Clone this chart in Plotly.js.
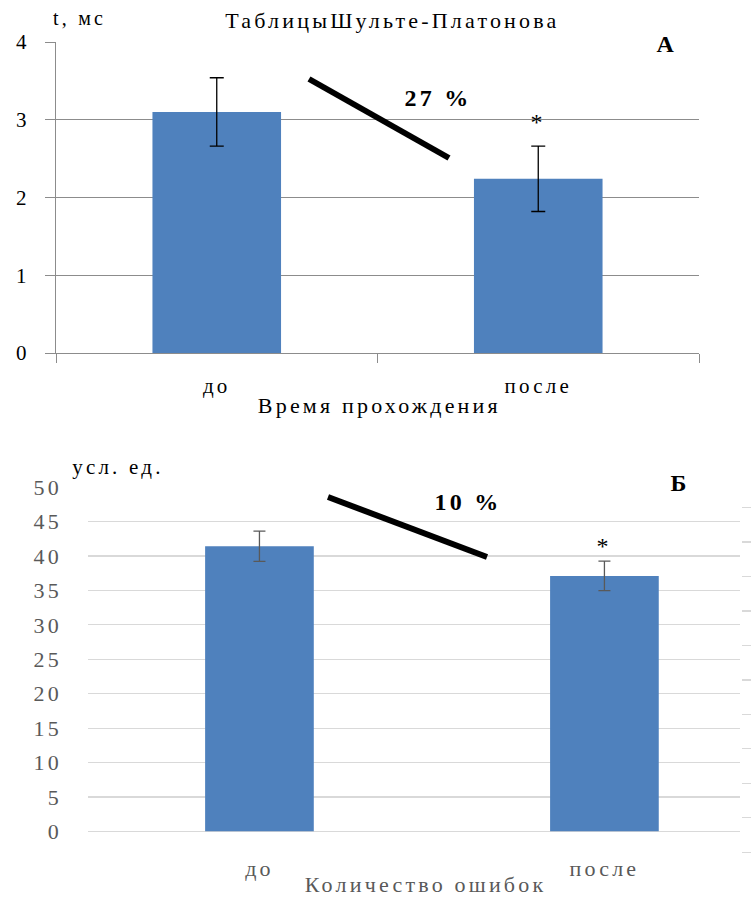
<!DOCTYPE html>
<html>
<head>
<meta charset="utf-8">
<script src="https://cdn.plot.ly/plotly-3.0.1.min.js"></script>
<style>
html,body{margin:0;padding:0;background:#fff;}
#chart{width:751px;height:898px;}
#chart text{letter-spacing:3.2px;}
</style>
</head>
<body>
<div id="chart"></div>
<script>
// ---- data ----
const categories = ['до', 'после'];
const timeValues = [3.10, 2.24];      // Время прохождения, t, мс
const timeErrors = [0.44, 0.42];
const mistakeValues = [41.4, 37.1];   // Количество ошибок, усл. ед.
const mistakeErrors = [2.2, 2.15];
const timeTickVals = [0, 1, 2, 3, 4];
const mistakeTickVals = [0, 5, 10, 15, 20, 25, 30, 35, 40, 45, 50];

// ---- layout helpers (pixel -> paper) ----
const W = 751, H = 898;
const px = x => x / W;
const py = y => 1 - y / H;
const serif = 'Liberation Serif, serif';
const barColor = '#4f81bd';

const traces = [
  {
    type: 'bar', x: categories, y: timeValues, xaxis: 'x', yaxis: 'y',
    width: 0.4, marker: {color: barColor},
    error_y: {type: 'data', array: timeErrors, visible: true, color: '#000', thickness: 1.3, width: 7},
    showlegend: false, hoverinfo: 'x+y'
  },
  {
    type: 'bar', x: categories, y: mistakeValues, xaxis: 'x2', yaxis: 'y2',
    width: 0.315, marker: {color: barColor},
    error_y: {type: 'data', array: mistakeErrors, visible: true, color: '#595959', thickness: 1.3, width: 6},
    showlegend: false, hoverinfo: 'x+y'
  },
  { type: 'scatter', x: [], y: [], xaxis: 'x3', yaxis: 'y3', showlegend: false }
];

const layout = {
  width: W, height: H,
  margin: {l: 0, r: 0, t: 0, b: 0},
  paper_bgcolor: '#fff', plot_bgcolor: 'rgba(0,0,0,0)',
  font: {family: serif, color: '#000', size: 21},
  xaxis: {
    domain: [px(56), px(699)], anchor: 'y', range: [-0.5, 1.5],
    type: 'category', showline: true, linecolor: '#8c8c8c', linewidth: 1,
    ticks: 'outside', tickson: 'boundaries', ticklen: 9, tickcolor: '#8c8c8c',
    tickfont: {family: serif, size: 21, color: '#000'}, ticklabelstandoff: 14,
    showgrid: false, fixedrange: true
  },
  yaxis: {
    domain: [py(353), py(42)], anchor: 'x', range: [0, 4],
    tickvals: timeTickVals, showline: true, linecolor: '#8c8c8c', linewidth: 1,
    ticks: 'outside', ticklen: 10, tickcolor: '#8c8c8c',
    showgrid: true, gridcolor: '#8c8c8c', gridwidth: 1, zeroline: false,
    tickfont: {family: serif, size: 21, color: '#000'}, ticklabelstandoff: 11,
    fixedrange: true
  },
  xaxis2: {
    domain: [px(88), px(740)], anchor: 'y2', range: [-0.497, 1.393],
    type: 'category', showline: false, ticks: '', showgrid: false,
    tickfont: {family: serif, size: 22, color: '#595959'}, ticklabelstandoff: 21,
    fixedrange: true
  },
  yaxis2: {
    domain: [py(831.5), py(487)], anchor: 'x2', range: [0, 50],
    tickvals: mistakeTickVals, showline: false, ticks: '',
    showgrid: true, gridcolor: '#d9d9d9', gridwidth: 1.3, zeroline: true, zerolinecolor: '#d9d9d9', zerolinewidth: 1.3,
    tickfont: {family: serif, size: 22, color: '#595959'}, ticklabelstandoff: 25,
    fixedrange: true
  },
  xaxis3: {
    domain: [px(742), 1], anchor: 'y3', range: [0, 1],
    showticklabels: false, ticks: '', showgrid: false, zeroline: false, showline: false, fixedrange: true
  },
  yaxis3: {
    domain: [py(855), py(487)], anchor: 'x3', range: [-3.41, 50],
    tick0: -3, dtick: 5, showticklabels: false, ticks: '', showgrid: true,
    gridcolor: '#d9d9d9', gridwidth: 1.3, zeroline: false, showline: false, fixedrange: true
  },
  shapes: [
    {type: 'line', xref: 'paper', yref: 'paper', x0: px(309), y0: py(79), x1: px(449), y1: py(158),
     line: {color: '#000', width: 6}},
    {type: 'line', xref: 'paper', yref: 'paper', x0: px(328), y0: py(497), x1: px(487), y1: py(557),
     line: {color: '#000', width: 6}}
  ],
  annotations: [
    {text: 'ТаблицыШульте-Платонова', xref: 'paper', yref: 'paper', x: px(392), y: py(20),
     xanchor: 'center', yanchor: 'middle', showarrow: false, font: {family: serif, size: 22, color: '#000'}},
    {text: 't, мс', xref: 'paper', yref: 'paper', x: px(59), y: py(18),
     xanchor: 'left', yanchor: 'middle', showarrow: false, font: {family: serif, size: 20, color: '#000'}},
    {text: '<b>А</b>', xref: 'paper', yref: 'paper', x: px(667), y: py(44),
     xanchor: 'center', yanchor: 'middle', showarrow: false, bgcolor: '#fff', borderpad: 3,
     font: {family: serif, size: 24, color: '#000'}},
    {text: '<b>27 %</b>', xref: 'paper', yref: 'paper', x: px(438), y: py(98),
     xanchor: 'center', yanchor: 'middle', showarrow: false, font: {family: serif, size: 24, color: '#000'}},
    {text: '*', xref: 'x', yref: 'paper', x: 'после', y: py(122),
     xanchor: 'center', yanchor: 'middle', showarrow: false, font: {family: serif, size: 24, color: '#000'}},
    {text: 'Время прохождения', xref: 'paper', yref: 'paper', x: px(379), y: py(405),
     xanchor: 'center', yanchor: 'middle', showarrow: false, font: {family: serif, size: 22, color: '#000'}},
    {text: 'усл. ед.', xref: 'paper', yref: 'paper', x: px(83), y: py(467),
     xanchor: 'left', yanchor: 'middle', showarrow: false, font: {family: serif, size: 21, color: '#000'}},
    {text: '<b>Б</b>', xref: 'paper', yref: 'paper', x: px(680), y: py(483),
     xanchor: 'center', yanchor: 'middle', showarrow: false, bgcolor: '#fff', borderpad: 4,
     font: {family: serif, size: 24, color: '#000'}},
    {text: '<b>10 %</b>', xref: 'paper', yref: 'paper', x: px(468), y: py(502),
     xanchor: 'center', yanchor: 'middle', showarrow: false, bgcolor: '#fff', borderpad: 5,
     font: {family: serif, size: 24, color: '#000'}},
    {text: '*', xref: 'x2', yref: 'paper', x: 'после', y: py(546),
     xanchor: 'center', yanchor: 'middle', showarrow: false, font: {family: serif, size: 24, color: '#000'}},
    {text: 'Количество ошибок', xref: 'paper', yref: 'paper', x: px(425), y: py(884),
     xanchor: 'center', yanchor: 'middle', showarrow: false, font: {family: serif, size: 22, color: '#595959'}}
  ]
};

Plotly.newPlot('chart', traces, layout, {displayModeBar: false, staticPlot: true});
</script>
</body>
</html>
